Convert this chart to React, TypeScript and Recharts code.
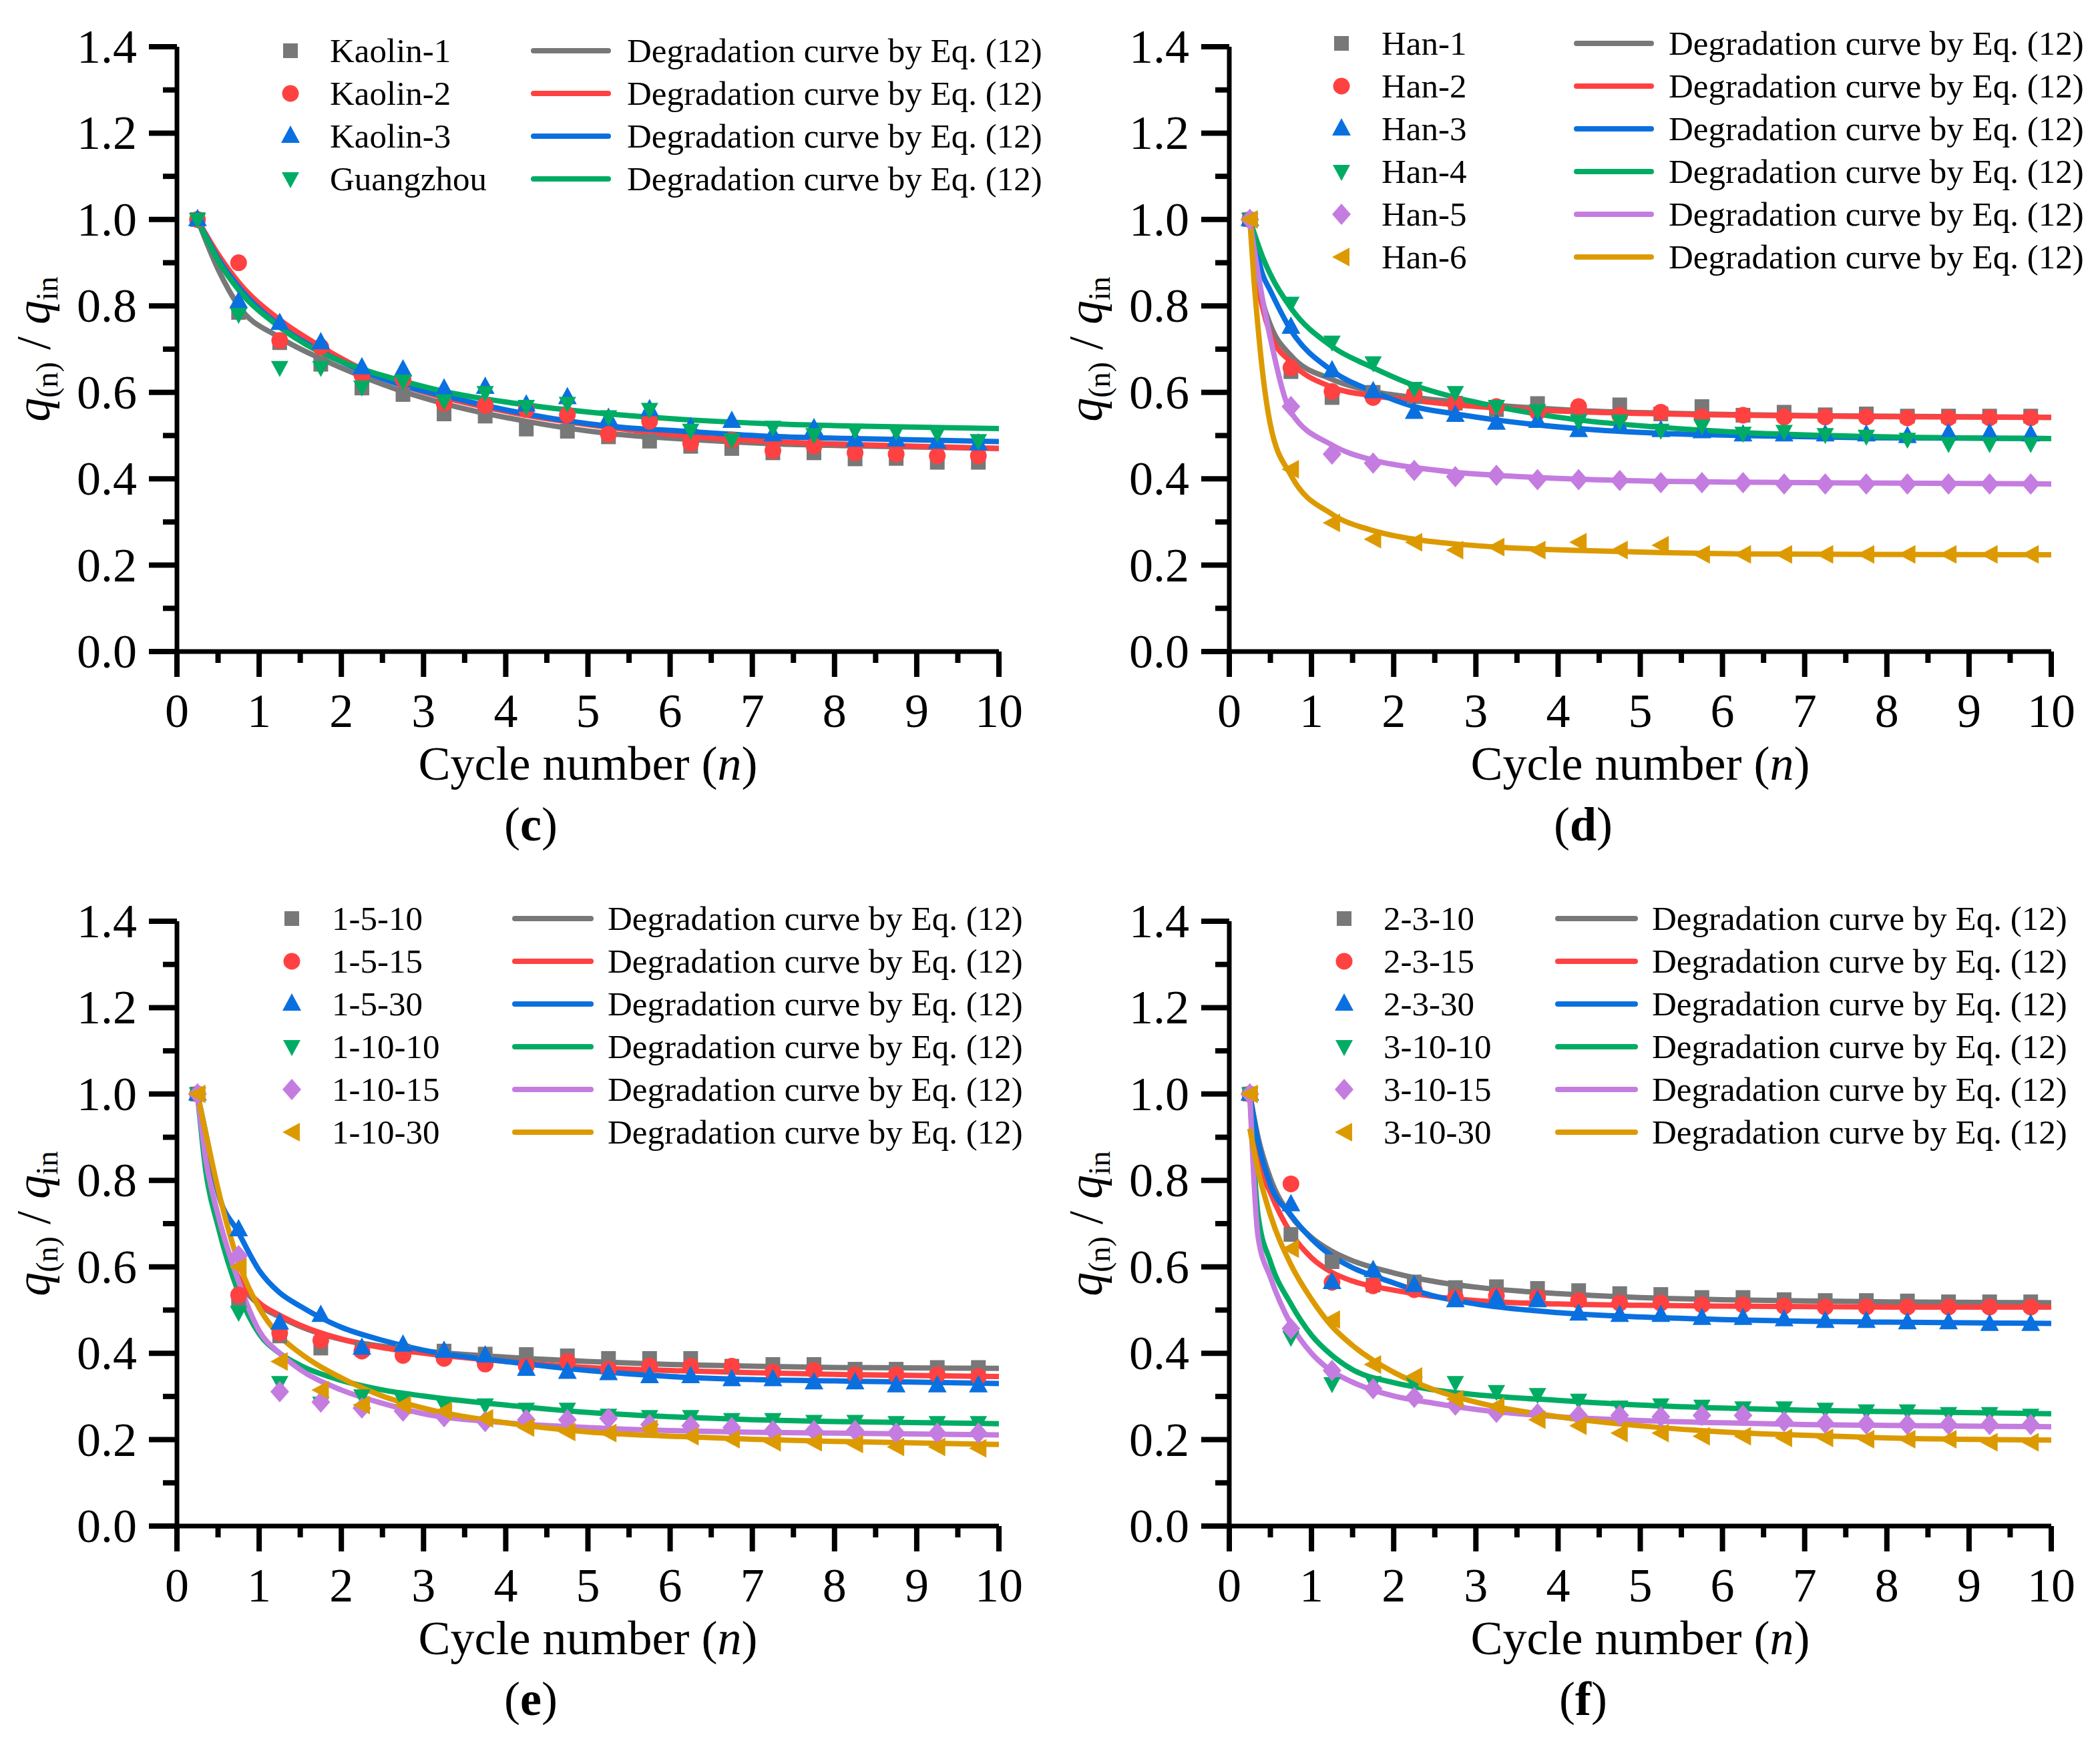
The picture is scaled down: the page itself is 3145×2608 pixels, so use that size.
import React from 'react';
import { ComposedChart, Scatter, Line, XAxis, YAxis, Legend } from 'recharts';

const FONT = '"Liberation Serif", "Times New Roman", serif';
const COLORS = ['#787878', '#FF4141', '#0A70E0', '#00AC64', '#C47CE0', '#DC9A00'];
const SHAPES = ['square', 'circle', 'triangleUp', 'triangleDown', 'diamond', 'triangleLeft'];
const CURVE_LABEL = 'Degradation curve by Eq. (12)';

// ---------- shared axis data ----------
const cycles = [0.25, 0.75, 1.25, 1.75, 2.25, 2.75, 3.25, 3.75, 4.25, 4.75, 5.25, 5.75, 6.25, 6.75, 7.25, 7.75, 8.25, 8.75, 9.25, 9.75];
const xTicks = [0, 0.5, 1, 1.5, 2, 2.5, 3, 3.5, 4, 4.5, 5, 5.5, 6, 6.5, 7, 7.5, 8, 8.5, 9, 9.5, 10];
const yTicks = [0, 0.1, 0.2, 0.3, 0.4, 0.5, 0.6, 0.7, 0.8, 0.9, 1.0, 1.1, 1.2, 1.3, 1.4];

// ---------- panel (c) ----------
const namesC = ['Kaolin-1', 'Kaolin-2', 'Kaolin-3', 'Guangzhou'];
const kaolin1 = [1.0, 0.785, 0.715, 0.665, 0.61, 0.595, 0.55, 0.545, 0.515, 0.51, 0.497, 0.487, 0.475, 0.47, 0.46, 0.46, 0.446, 0.447, 0.438, 0.438];
const kaolin2 = [1.0, 0.9, 0.72, 0.705, 0.64, 0.63, 0.575, 0.57, 0.56, 0.548, 0.503, 0.533, 0.482, 0.49, 0.465, 0.476, 0.46, 0.457, 0.453, 0.453];
const kaolin3 = [1.0, 0.81, 0.76, 0.715, 0.657, 0.652, 0.608, 0.612, 0.571, 0.588, 0.54, 0.56, 0.519, 0.533, 0.502, 0.516, 0.49, 0.49, 0.485, 0.481];
const guangzhou = [1.0, 0.78, 0.657, 0.657, 0.612, 0.626, 0.58, 0.599, 0.567, 0.574, 0.543, 0.56, 0.512, 0.49, 0.519, 0.502, 0.512, 0.509, 0.505, 0.488];
const fitXC = [0.25, 0.5, 0.75, 1.25, 1.75, 2.25, 2.75, 3.25, 4.25, 5.25, 6.25, 7.25, 8.25, 10];
const fitKaolin1 = [1.0, 0.885, 0.8, 0.727, 0.678, 0.637, 0.602, 0.574, 0.533, 0.505, 0.491, 0.481, 0.476, 0.47];
const fitKaolin2 = [1.0, 0.92, 0.855, 0.768, 0.706, 0.654, 0.616, 0.588, 0.547, 0.519, 0.498, 0.486, 0.479, 0.47];
const fitKaolin3 = [1.0, 0.91, 0.844, 0.754, 0.695, 0.65, 0.616, 0.592, 0.55, 0.522, 0.509, 0.498, 0.493, 0.486];
const fitGuangzhou = [1.0, 0.905, 0.837, 0.751, 0.692, 0.654, 0.626, 0.602, 0.571, 0.55, 0.536, 0.527, 0.522, 0.516];

// ---------- panel (d) ----------
const namesD = ['Han-1', 'Han-2', 'Han-3', 'Han-4', 'Han-5', 'Han-6'];
const han1 = [1.0, 0.648, 0.588, 0.6, 0.59, 0.575, 0.56, 0.574, 0.56, 0.571, 0.55, 0.567, 0.547, 0.554, 0.548, 0.55, 0.545, 0.545, 0.545, 0.545];
const han2 = [1.0, 0.657, 0.602, 0.588, 0.595, 0.574, 0.567, 0.554, 0.567, 0.547, 0.554, 0.543, 0.547, 0.543, 0.543, 0.543, 0.541, 0.541, 0.541, 0.541];
const han3 = [1.0, 0.751, 0.65, 0.602, 0.554, 0.547, 0.529, 0.533, 0.512, 0.522, 0.512, 0.509, 0.502, 0.502, 0.502, 0.502, 0.498, 0.505, 0.505, 0.502];
const han4 = [1.0, 0.806, 0.716, 0.668, 0.609, 0.599, 0.567, 0.557, 0.533, 0.533, 0.512, 0.522, 0.505, 0.509, 0.502, 0.498, 0.491, 0.481, 0.481, 0.481];
const han5 = [1.0, 0.567, 0.457, 0.436, 0.419, 0.405, 0.408, 0.398, 0.398, 0.396, 0.391, 0.391, 0.391, 0.388, 0.388, 0.388, 0.388, 0.388, 0.388, 0.388];
const han6 = [1.0, 0.422, 0.298, 0.26, 0.253, 0.235, 0.242, 0.235, 0.253, 0.235, 0.246, 0.225, 0.225, 0.225, 0.225, 0.225, 0.225, 0.225, 0.225, 0.225];
const fitXD = [0.25, 0.3, 0.35, 0.4, 0.5, 0.75, 1.25, 1.75, 2.25, 2.75, 3.25, 4.25, 5.25, 6.25, 7.75, 10];
const fitHan1 = [1.0, 0.925, 0.862, 0.815, 0.756, 0.685, 0.63, 0.602, 0.588, 0.578, 0.57, 0.558, 0.552, 0.548, 0.545, 0.542];
const fitHan2 = [1.0, 0.915, 0.848, 0.8, 0.735, 0.67, 0.612, 0.592, 0.581, 0.571, 0.564, 0.555, 0.55, 0.547, 0.544, 0.542];
const fitHan3 = [1.0, 0.955, 0.912, 0.876, 0.835, 0.744, 0.65, 0.602, 0.567, 0.55, 0.536, 0.516, 0.505, 0.5, 0.495, 0.493];
const fitHan4 = [1.0, 0.97, 0.942, 0.916, 0.873, 0.795, 0.706, 0.657, 0.616, 0.588, 0.567, 0.536, 0.519, 0.507, 0.498, 0.493];
const fitHan5 = [1.0, 0.935, 0.875, 0.82, 0.725, 0.554, 0.478, 0.443, 0.426, 0.415, 0.408, 0.399, 0.394, 0.392, 0.39, 0.388];
const fitHan6 = [1.0, 0.86, 0.75, 0.655, 0.525, 0.408, 0.318, 0.28, 0.26, 0.249, 0.242, 0.234, 0.229, 0.226, 0.225, 0.224];

// ---------- panel (e) ----------
const namesE = ['1-5-10', '1-5-15', '1-5-30', '1-10-10', '1-10-15', '1-10-30'];
const s1_5_10 = [1.0, 0.52, 0.44, 0.412, 0.41, 0.405, 0.405, 0.398, 0.397, 0.394, 0.388, 0.388, 0.388, 0.37, 0.374, 0.374, 0.363, 0.363, 0.367, 0.367];
const s1_5_15 = [1.0, 0.535, 0.447, 0.43, 0.405, 0.395, 0.388, 0.375, 0.37, 0.381, 0.363, 0.37, 0.37, 0.37, 0.356, 0.36, 0.35, 0.35, 0.35, 0.346];
const s1_5_30 = [1.0, 0.686, 0.47, 0.488, 0.412, 0.419, 0.405, 0.394, 0.363, 0.356, 0.353, 0.346, 0.346, 0.339, 0.339, 0.332, 0.332, 0.325, 0.325, 0.325];
const s1_10_10 = [1.0, 0.494, 0.332, 0.284, 0.301, 0.29, 0.28, 0.28, 0.27, 0.27, 0.256, 0.253, 0.253, 0.246, 0.246, 0.242, 0.242, 0.239, 0.239, 0.239];
const s1_10_15 = [1.0, 0.626, 0.311, 0.287, 0.273, 0.266, 0.253, 0.242, 0.246, 0.246, 0.249, 0.235, 0.232, 0.228, 0.221, 0.221, 0.221, 0.215, 0.215, 0.215];
const s1_10_30 = [1.0, 0.6, 0.381, 0.315, 0.28, 0.28, 0.266, 0.249, 0.228, 0.218, 0.215, 0.225, 0.208, 0.201, 0.194, 0.194, 0.19, 0.183, 0.183, 0.18];
const fitXE = [0.25, 0.35, 0.5, 0.75, 1, 1.25, 1.5, 2, 2.5, 3, 4, 5, 6, 7, 8, 10];
const fit1_5_10 = [1.0, 0.86, 0.7, 0.57, 0.512, 0.484, 0.462, 0.432, 0.416, 0.405, 0.391, 0.381, 0.374, 0.37, 0.367, 0.365];
const fit1_5_15 = [1.0, 0.86, 0.7, 0.575, 0.517, 0.488, 0.465, 0.433, 0.413, 0.4, 0.381, 0.367, 0.36, 0.355, 0.351, 0.346];
const fit1_5_30 = [1.0, 0.91, 0.772, 0.679, 0.592, 0.54, 0.509, 0.46, 0.43, 0.407, 0.381, 0.36, 0.346, 0.339, 0.336, 0.33];
const fit1_10_10 = [1.0, 0.823, 0.694, 0.54, 0.445, 0.4, 0.372, 0.337, 0.315, 0.301, 0.28, 0.263, 0.253, 0.246, 0.242, 0.237];
const fit1_10_15 = [1.0, 0.849, 0.72, 0.566, 0.452, 0.4, 0.362, 0.315, 0.284, 0.26, 0.239, 0.228, 0.221, 0.217, 0.215, 0.211];
const fit1_10_30 = [1.0, 0.91, 0.78, 0.61, 0.505, 0.44, 0.4, 0.343, 0.301, 0.273, 0.239, 0.218, 0.208, 0.201, 0.196, 0.189];

// ---------- panel (f) ----------
const namesF = ['2-3-10', '2-3-15', '2-3-30', '3-10-10', '3-10-15', '3-10-30'];
const s2_3_10 = [1.0, 0.675, 0.612, 0.558, 0.565, 0.552, 0.554, 0.55, 0.545, 0.538, 0.536, 0.529, 0.529, 0.524, 0.522, 0.522, 0.521, 0.519, 0.519, 0.519];
const s2_3_15 = [1.0, 0.792, 0.564, 0.556, 0.547, 0.529, 0.533, 0.529, 0.522, 0.516, 0.516, 0.512, 0.512, 0.509, 0.507, 0.507, 0.507, 0.507, 0.507, 0.507];
const s2_3_30 = [1.0, 0.744, 0.564, 0.592, 0.557, 0.522, 0.526, 0.522, 0.491, 0.488, 0.488, 0.481, 0.481, 0.478, 0.474, 0.474, 0.471, 0.471, 0.467, 0.467];
const s3_10_10 = [1.0, 0.436, 0.329, 0.332, 0.33, 0.332, 0.311, 0.304, 0.291, 0.275, 0.28, 0.277, 0.273, 0.273, 0.27, 0.266, 0.266, 0.26, 0.26, 0.256];
const s3_10_15 = [1.0, 0.457, 0.36, 0.318, 0.298, 0.28, 0.263, 0.26, 0.256, 0.256, 0.253, 0.256, 0.256, 0.242, 0.238, 0.236, 0.235, 0.235, 0.235, 0.235];
const s3_10_30 = [1.0, 0.642, 0.478, 0.374, 0.346, 0.294, 0.277, 0.246, 0.232, 0.215, 0.215, 0.208, 0.208, 0.204, 0.204, 0.201, 0.201, 0.201, 0.194, 0.194];
const fitXF = [0.25, 0.35, 0.5, 0.75, 1, 1.25, 1.5, 2, 2.5, 3, 4, 5, 6, 7, 8, 10];
const fit2_3_10 = [1.0, 0.9, 0.805, 0.718, 0.668, 0.636, 0.614, 0.586, 0.566, 0.553, 0.538, 0.529, 0.524, 0.521, 0.519, 0.517];
const fit2_3_15 = [1.0, 0.85, 0.772, 0.678, 0.621, 0.587, 0.567, 0.546, 0.531, 0.522, 0.514, 0.511, 0.509, 0.508, 0.507, 0.507];
const fit2_3_30 = [1.0, 0.89, 0.79, 0.72, 0.665, 0.625, 0.598, 0.563, 0.532, 0.514, 0.494, 0.484, 0.478, 0.474, 0.472, 0.469];
const fit3_10_10 = [1.0, 0.72, 0.612, 0.514, 0.442, 0.395, 0.362, 0.332, 0.315, 0.304, 0.291, 0.28, 0.273, 0.268, 0.265, 0.26];
const fit3_10_15 = [1.0, 0.67, 0.576, 0.467, 0.4, 0.358, 0.333, 0.301, 0.284, 0.27, 0.253, 0.244, 0.239, 0.235, 0.233, 0.23];
const fit3_10_30 = [0.92, 0.823, 0.72, 0.605, 0.525, 0.462, 0.418, 0.356, 0.315, 0.287, 0.253, 0.232, 0.218, 0.21, 0.204, 0.199];

// ---------- layout ----------
const W = 1569;
const H = 1298;

const toPoints = (xs: number[], ys: number[]) => xs.map((x, i) => ({ x, y: ys[i] }));

const panels = [
  {
    letter: 'c', left: 0, top: 0, names: namesC,
    points: [kaolin1, kaolin2, kaolin3, guangzhou], fitX: fitXC,
    fits: [fitKaolin1, fitKaolin2, fitKaolin3, fitGuangzhou],
    leg: { y0: 76, dy: 64, mx: 435, tx: 494, lx1: 799, lx2: 911, ltx: 939 },
  },
  {
    letter: 'd', left: 1576, top: 0, names: namesD,
    points: [han1, han2, han3, han4, han5, han6], fitX: fitXD,
    fits: [fitHan1, fitHan2, fitHan3, fitHan4, fitHan5, fitHan6],
    leg: { y0: 65, dy: 64, mx: 433, tx: 493, lx1: 785, lx2: 897, ltx: 923 },
  },
  {
    letter: 'e', left: 0, top: 1310, names: namesE,
    points: [s1_5_10, s1_5_15, s1_5_30, s1_10_10, s1_10_15, s1_10_30], fitX: fitXE,
    fits: [fit1_5_10, fit1_5_15, fit1_5_30, fit1_10_10, fit1_10_15, fit1_10_30],
    leg: { y0: 66, dy: 64, mx: 437, tx: 497, lx1: 771, lx2: 885, ltx: 910 },
  },
  {
    letter: 'f', left: 1576, top: 1310, names: namesF,
    points: [s2_3_10, s2_3_15, s2_3_30, s3_10_10, s3_10_15, s3_10_30], fitX: fitXF,
    fits: [fit2_3_10, fit2_3_15, fit2_3_30, fit3_10_10, fit3_10_15, fit3_10_30],
    leg: { y0: 66, dy: 64, mx: 437, tx: 496, lx1: 757, lx2: 873, ltx: 898 },
  },
];

function Marker({ kind, cx, cy, color }: { kind: string; cx: number; cy: number; color: string }) {
  if (cx == null || cy == null || isNaN(cx) || isNaN(cy)) return null;
  switch (kind) {
    case 'square':
      return <rect x={cx - 11} y={cy - 11} width={22} height={22} fill={color} />;
    case 'circle':
      return <circle cx={cx} cy={cy} r={12.5} fill={color} />;
    case 'triangleUp':
      return <polygon points={`${cx},${cy - 16} ${cx + 14},${cy + 10} ${cx - 14},${cy + 10}`} fill={color} />;
    case 'triangleDown':
      return <polygon points={`${cx - 13},${cy - 10} ${cx + 13},${cy - 10} ${cx},${cy + 14}`} fill={color} />;
    case 'diamond':
      return <polygon points={`${cx},${cy - 16} ${cx + 14},${cy} ${cx},${cy + 16} ${cx - 14},${cy}`} fill={color} />;
    case 'triangleLeft':
      return <polygon points={`${cx - 14},${cy} ${cx + 12},${cy - 14} ${cx + 12},${cy + 14}`} fill={color} />;
    default:
      return null;
  }
}

const XTick = (props: any) => {
  const { x, y, payload } = props;
  const v = payload.value;
  const major = Math.abs(v - Math.round(v)) < 1e-6;
  return (
    <g>
      <line x1={x} x2={x} y1={y} y2={y + (major ? 38 : 17)} stroke="#000" strokeWidth={8} />
      {major && (
        <text x={x} y={y + 113} textAnchor="middle" fontSize={72} fontFamily={FONT} fill="#000">
          {Math.round(v)}
        </text>
      )}
    </g>
  );
};

const YTick = (props: any) => {
  const { x, y, payload } = props;
  const v = payload.value;
  const major = Math.round(v * 10) % 2 === 0;
  return (
    <g>
      <line x1={x - (major ? 42 : 21)} x2={x} y1={y} y2={y} stroke="#000" strokeWidth={8} />
      {major && (
        <text x={x - 60} y={y + 24} textAnchor="end" fontSize={72} fontFamily={FONT} fill="#000">
          {v.toFixed(1)}
        </text>
      )}
    </g>
  );
};

const makeXTitle = (letter: string) => (props: any) => {
  const vb = props.viewBox || { x: 265, y: 976, width: 1231, height: 100 };
  const cx = vb.x + vb.width / 2;
  return (
    <g>
      <text x={cx} y={vb.y + 192} textAnchor="middle" fontSize={72} fontFamily={FONT} fill="#000">
        Cycle number (<tspan fontStyle="italic">n</tspan>)
      </text>
      <text x={vb.x + 530} y={vb.y + 283} textAnchor="middle" fontSize={72} fontFamily={FONT} fill="#000">
        (<tspan fontWeight="bold">{letter}</tspan>)
      </text>
    </g>
  );
};

const YTitle = (props: any) => {
  const vb = props.viewBox || { x: 205, y: 70, width: 60, height: 906 };
  const cy = vb.y + vb.height / 2;
  const bx = vb.x - 131;
  return (
    <text transform={`translate(${bx}, ${cy}) rotate(-90)`} textAnchor="middle" fontSize={72} fontFamily={FONT} fill="#000">
      <tspan fontStyle="italic">q</tspan>
      <tspan fontSize={46} dy={12}>(n)</tspan>
      <tspan dy={-12}> / </tspan>
      <tspan fontStyle="italic">q</tspan>
      <tspan fontSize={46} dy={12}>in</tspan>
    </text>
  );
};

const makeLegend = (panel: any) => () => {
  const L = panel.leg;
  return (
    <svg width={W} height={460} style={{ display: 'block', overflow: 'visible' }}>
      {panel.names.map((n: string, i: number) => {
        const y = L.y0 + i * L.dy;
        return (
          <g key={n}>
            <Marker kind={SHAPES[i]} cx={L.mx} cy={y} color={COLORS[i]} />
            <text x={L.tx} y={y + 17} fontSize={51} fontFamily={FONT} fill="#000">{n}</text>
            <line x1={L.lx1} x2={L.lx2} y1={y} y2={y} stroke={COLORS[i]} strokeWidth={8} strokeLinecap="round" />
            <text x={L.ltx} y={y + 17} fontSize={51} fontFamily={FONT} fill="#000">{CURVE_LABEL}</text>
          </g>
        );
      })}
    </svg>
  );
};

function Panel({ panel }: { panel: any }) {
  return (
    <div style={{ position: 'absolute', left: panel.left, top: panel.top, width: W, height: H }}>
      <ComposedChart width={W} height={H} margin={{ top: 70, right: 73, left: 205, bottom: 222 }}>
        <XAxis
          type="number"
          dataKey="x"
          domain={[0, 10]}
          ticks={xTicks}
          interval={0}
          tickSize={0}
          tickMargin={0}
          tickLine={false}
          tick={XTick}
          axisLine={{ stroke: '#000', strokeWidth: 7 }}
          height={100}
          allowDataOverflow
          label={makeXTitle(panel.letter)}
        />
        <YAxis
          type="number"
          dataKey="y"
          domain={[0, 1.4]}
          ticks={yTicks}
          interval={0}
          tickSize={0}
          tickMargin={0}
          tickLine={false}
          tick={YTick}
          axisLine={{ stroke: '#000', strokeWidth: 7 }}
          width={60}
          allowDataOverflow
          label={YTitle}
        />
        {panel.points.map((ys: number[], i: number) => (
          <Scatter
            key={`s${i}`}
            name={panel.names[i]}
            data={toPoints(cycles, ys)}
            dataKey="y"
            fill={COLORS[i]}
            isAnimationActive={false}
            shape={(p: any) => <Marker kind={SHAPES[i]} cx={p.cx} cy={p.cy} color={COLORS[i]} />}
          />
        ))}
        {panel.fits.map((ys: number[], i: number) => (
          <Line
            key={`l${i}`}
            name={`${CURVE_LABEL} ${i}`}
            data={toPoints(panel.fitX, ys)}
            dataKey="y"
            type="monotone"
            stroke={COLORS[i]}
            strokeWidth={8}
            dot={false}
            activeDot={false}
            isAnimationActive={false}
          />
        ))}
        <Legend
          layout="vertical"
          align="center"
          verticalAlign="middle"
          wrapperStyle={{ left: 0, top: 0, width: W, height: 460, margin: 0, padding: 0 }}
          content={makeLegend(panel)}
        />
      </ComposedChart>
    </div>
  );
}

export default function App() {
  return (
    <div style={{ position: 'absolute', left: 0, top: 0, width: 3145, height: 2608, background: '#fff', overflow: 'hidden' }}>
      {panels.map((p) => (
        <Panel key={p.letter} panel={p} />
      ))}
    </div>
  );
}
